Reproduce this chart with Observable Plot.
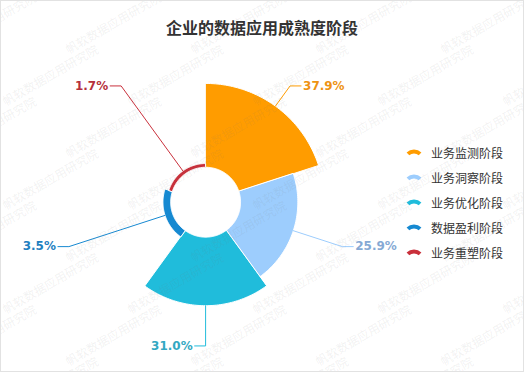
<!DOCTYPE html>
<html>
<head>
<meta charset="utf-8">
<script src="https://cdn.jsdelivr.net/npm/d3@7"></script>
<script src="https://cdn.jsdelivr.net/npm/@observablehq/plot@0.6"></script>
<style>
  body { margin: 0; background: #fff; }
  #wrap { position: relative; width: 524px; height: 372px; box-sizing: border-box; border: 1px solid #e2e2e2; overflow: hidden; background: #fff; font-family: "Noto Sans CJK SC", sans-serif; }
  #title { position: absolute; left: 0; right: 0; top: 14px; text-align: center; font-size: 16px; font-weight: bold; color: #333; line-height: 24px; }
  #chart { position: absolute; left: -1px; top: 47px; }
  #legend { position: absolute; left: 405px; top: 139px; }
  .item { height: 25px; line-height: 25px; font-size: 12px; color: #333; display: flex; align-items: center; white-space: nowrap; }
  .item svg { margin-right: 9px; }
  #wm { position: absolute; left: 0; top: 0; width: 524px; height: 372px; pointer-events: none; }
  .wmt { position: absolute; font-size: 12px; color: rgba(120,120,120,0.1); transform: rotate(-30deg); transform-origin: left center; white-space: nowrap; }
</style>
</head>
<body>
<div id="wrap">
  <div id="title"></div>
  <div id="chart"></div>
  <div id="legend"></div>
  <div id="wm"></div>
</div>
<script>
// ---- data ----
const titleText = "企业的数据应用成熟度阶段";
const categories = ["业务监测阶段", "业务洞察阶段", "业务优化阶段", "数据盈利阶段", "业务重塑阶段"];
const shares = [37.9, 25.9, 31.0, 3.5, 1.7];
const palette = ["#ff9c00", "#9dcdfd", "#20bcdb", "#1689d1", "#c9303b"];
const labelPalette = ["#ee9312", "#86a9d4", "#33a8c2", "#1f80c0", "#b5303b"];
const watermarkText = "帆软数据应用研究院";

// ---- layout constants ----
const W = 524, H = 324;          // svg size
const cx = 205.5, cy = 154;      // pie centre inside svg (px)
const R0 = 35, R1 = 119;         // inner radius, max outer radius
const labelR = R1 + 25, len2 = 11;

document.getElementById("title").textContent = titleText;

const maxV = d3.max(shares);
const rOf = v => R0 + (R1 - R0) * v / maxV;     // rose "area" radius
const step = 2 * Math.PI / categories.length;   // equal angles

const slices = categories.flatMap((name, i) => {
  const a0 = i * step, a1 = (i + 1) * step, r = rOf(shares[i]);
  const pts = [], n = 60;
  for (let k = 0; k <= n; k++) { const a = a0 + (a1 - a0) * k / n; pts.push({name, x: r * Math.sin(a), y: r * Math.cos(a)}); }
  for (let k = n; k >= 0; k--) { const a = a0 + (a1 - a0) * k / n; pts.push({name, x: R0 * Math.sin(a), y: R0 * Math.cos(a)}); }
  return pts;
});

const labels = categories.map((name, i) => {
  const a = (i + 0.5) * step, r = rOf(shares[i]);
  const right = Math.sin(a) > 1e-6;
  const ex = labelR * Math.sin(a), ey = labelR * Math.cos(a);
  return {name, i, right, x0: r * Math.sin(a), y0: r * Math.cos(a), ex, ey,
          tx: ex + (right ? len2 : -len2), ty: ey, text: shares[i].toFixed(1) + "%"};
});
const leaderPts = labels.flatMap(d => [
  {name: d.name, x: d.x0, y: d.y0},
  {name: d.name, x: d.ex, y: d.ey},
  {name: d.name, x: d.tx, y: d.ty}
]);

const labelFont = {fontSize: 12, fontWeight: "bold", fontFamily: "DejaVu Sans, Verdana, sans-serif"};

const chart = Plot.plot({
  width: W, height: H,
  margin: 0,
  x: {domain: [-cx, W - cx], range: [0, W], axis: null},
  y: {domain: [-(H - cy), cy], range: [H, 0], axis: null},
  color: {domain: categories, range: palette},
  style: {background: "transparent", overflow: "visible"},
  marks: [
    Plot.line(slices, {x: "x", y: "y", z: "name", fill: "name", stroke: "#fff", strokeWidth: 1, curve: "linear-closed"}),
    Plot.line(leaderPts, {x: "x", y: "y", z: "name", stroke: "name", strokeWidth: 1}),
    ...labels.map(d => Plot.text([d], {
      x: "tx", y: "ty", text: "text", fill: labelPalette[d.i],
      textAnchor: d.right ? "start" : "end", dx: d.right ? 2 : -2, ...labelFont
    }))
  ]
});
document.getElementById("chart").appendChild(chart);

// ---- legend ----
const iconArc = d3.arc().innerRadius(7).outerRadius(11).startAngle(-0.74).endAngle(0.74);
const legend = d3.select("#legend");
categories.forEach((name, i) => {
  const item = legend.append("div").attr("class", "item");
  const s = item.append("svg").attr("width", 16).attr("height", 8);
  s.append("path").attr("d", iconArc()).attr("transform", "translate(8,11.5)").attr("fill", palette[i]);
  item.append("span").text(name);
});

// ---- watermark (faint tiled text over the whole frame, as in the reference) ----
const wm = document.getElementById("wm");
for (let row = 0; row < 8; row++) {
  for (let col = 0; col < 6; col++) {
    const s = document.createElement("div");
    s.className = "wmt";
    s.textContent = watermarkText;
    s.style.left = (-60 + col * 125 + (row % 2) * 62) + "px";
    s.style.top = (40 + row * 52) + "px";
    wm.appendChild(s);
  }
}
</script>
</body>
</html>
